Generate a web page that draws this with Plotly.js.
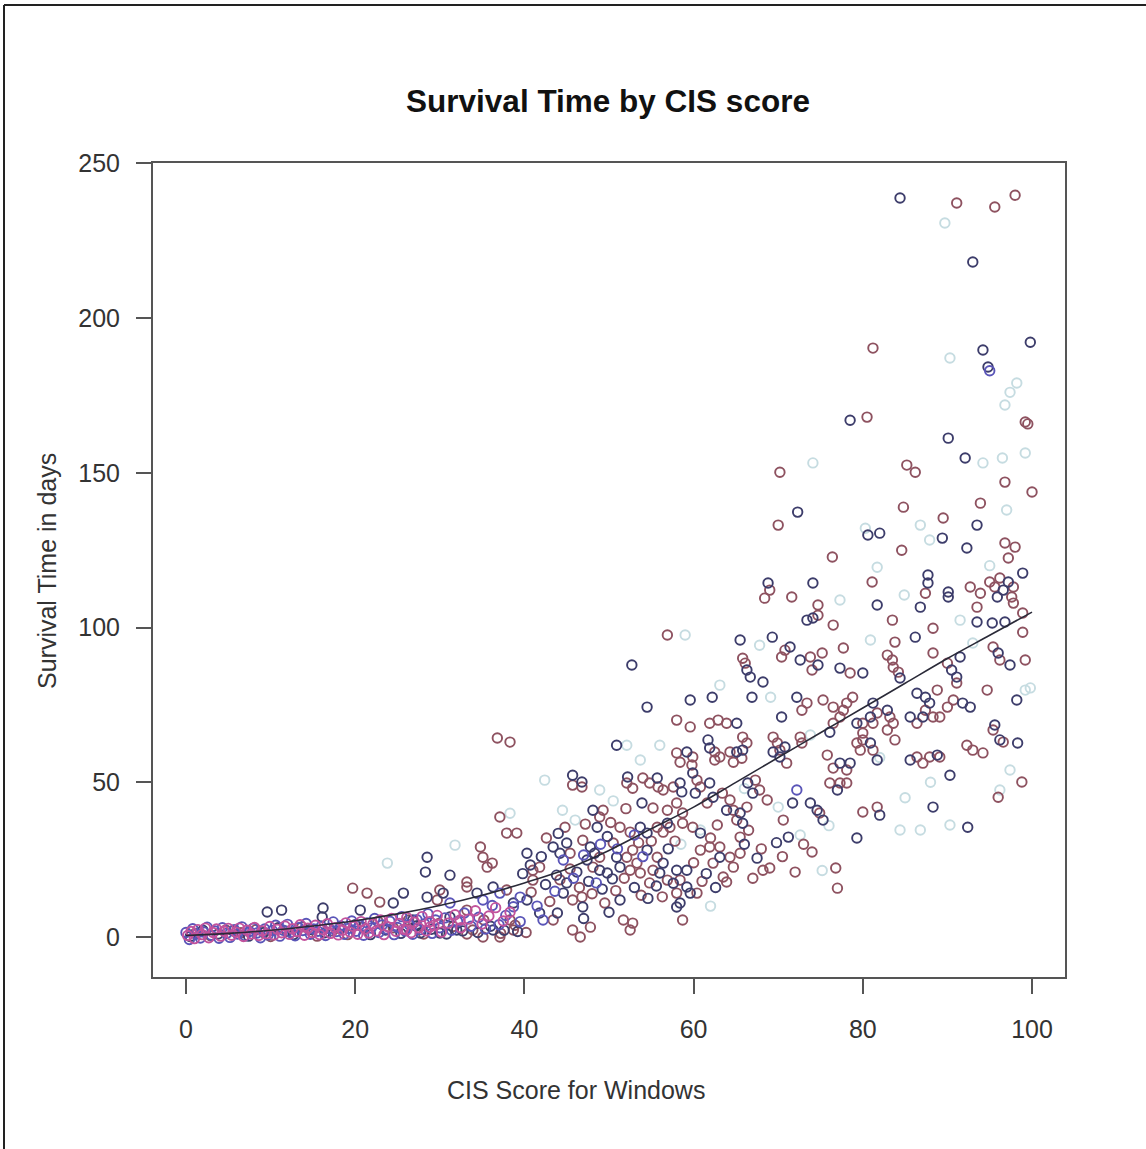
<!DOCTYPE html>
<html>
<head>
<meta charset="utf-8">
<script src="https://cdn.plot.ly/plotly-3.0.1.min.js"></script>
<style>
html,body{margin:0;padding:0;background:#fff;}
#chart{width:1146px;height:1149px;}
</style>
</head>
<body>
<div id="chart"></div>
<script>
// ---- data: [CIS score, survival days] ----
const navyPts = [
[84.4,238.8],[93.0,218.1],[94.2,189.7],[94.8,184.2],[99.8,192.2],[78.5,167.0],[90.1,161.2],[92.1,154.8],
[72.3,137.3],[93.5,133.1],[80.6,129.9],[82.0,130.5],[89.4,128.9],[92.3,125.7],[98.9,117.6],[87.7,117.0],
[87.7,114.4],[90.1,111.5],[90.1,109.9],[97.2,114.7],[96.6,112.1],[95.9,109.9],[68.8,114.4],[74.1,114.4],
[81.7,107.3],[73.4,102.4],[74.1,103.1],[86.8,106.6],[93.5,101.8],[95.3,101.5],[96.8,101.8],[65.5,96.0],
[69.3,96.9],[71.4,93.7],[72.6,89.5],[74.7,87.9],[77.3,86.9],[80.0,85.3],[86.2,96.9],[84.4,83.7],
[90.5,86.3],[91.1,84.0],[91.5,90.5],[97.4,87.9],[96.0,91.8],[52.7,87.9],[66.3,86.3],[66.7,84.0],
[68.2,82.4],[54.5,74.3],[59.6,76.6],[62.2,77.5],[66.9,77.5],[72.2,77.5],[81.2,75.6],[82.9,73.3],
[86.4,78.8],[87.4,77.5],[87.9,75.6],[91.8,75.6],[92.7,74.3],[98.2,76.6],[65.1,69.1],[70.4,71.1],
[76.1,66.2],[80.9,71.1],[79.3,69.1],[85.6,71.1],[87.1,71.1],[95.6,68.5],[98.3,62.7],[50.9,62.0],
[59.2,59.8],[61.7,63.7],[61.9,61.1],[65.1,59.8],[65.8,60.4],[69.4,59.8],[70.8,61.4],[70.2,58.2],
[77.3,56.2],[78.5,56.2],[80.9,62.7],[81.7,57.2],[85.6,57.2],[88.8,58.8],[90.3,52.3],[96.2,63.7],
[52.2,51.7],[55.7,51.4],[58.4,49.8],[58.6,46.9],[53.9,43.3],[59.9,53.0],[60.2,46.5],[61.9,49.8],
[62.3,45.2],[63.9,41.0],[66.4,49.8],[67.0,46.5],[71.7,43.3],[73.8,43.3],[74.6,41.0],[75.3,37.8],
[77.0,47.5],[79.3,32.0],[88.3,42.0],[92.4,35.5],[71.2,32.3],[82.0,39.4],[45.7,52.3],[46.8,50.1],
[48.1,41.0],[48.6,35.5],[28.5,25.8],[28.3,21.0],[31.2,20.0],[40.3,27.1],[40.7,23.3],[43.4,29.1],
[44.2,27.1],[45.0,30.4],[47.8,29.1],[48.3,27.1],[47.4,24.9],[43.9,7.8],[44.6,14.2],[46.9,9.7],
[41.8,7.8],[25.7,14.2],[28.5,12.9],[30.4,14.2],[34.4,14.2],[36.3,16.2],[38.7,11.0],[40.3,12.0],
[36.3,2.3],[26.8,5.5],[27.7,1.3],[30.0,1.3],[31.2,6.5],[32.0,2.3],[48.9,21.6],[49.8,20.7],
[50.9,25.8],[51.3,22.6],[54.5,28.1],[56.4,23.9],[56.0,20.7],[58.0,21.6],[59.2,21.6],[57.6,17.4],
[59.2,16.2],[59.6,14.2],[58.4,11.0],[58.0,9.7],[63.1,25.8],[51.3,12.0],[53.7,35.5],[54.5,33.6],
[56.9,36.8],[60.8,33.6],[65.5,40.1],[65.8,36.8],[9.6,8.1],[11.3,8.7],[16.1,6.5],[16.2,9.4],
[20.6,8.7],[24.5,11.0],
[39.8,20.5],[42.5,17.0],[43.8,20.0],[45.0,17.5],[46.2,21.0],[47.6,18.0],[49.2,15.5],[50.4,18.8],
[44.0,33.5],[42.0,26.0],[49.8,32.5],[53.0,16.0],[54.6,12.5],[55.6,16.5],[57.0,28.5],[61.5,20.5],
[62.6,16.0],[66.0,30.0],[67.5,25.5],[69.8,30.5],[50.0,8.0],[47.0,6.0],
[0.5,0.2],[2.0,2.2],[3.8,1.0],[5.6,2.0],[7.4,0.3],[9.2,1.5],[10.9,3.0],[12.7,0.8],[14.6,2.4],
[16.4,1.4],[18.2,2.8],[20.0,4.0],[21.8,0.8],[23.6,2.3],[25.4,1.2],[27.2,3.6],[29.0,2.5],[30.8,1.0],
[32.7,2.0],[34.5,1.5],[36.0,3.5],[37.6,2.2],[39.2,1.8]
];
const maroonPts = [
[91.1,237.2],[95.6,235.9],[98.0,239.7],[81.2,190.3],[99.2,166.4],[99.5,165.8],[80.5,168.0],[85.2,152.5],
[86.2,150.2],[70.2,150.2],[96.8,147.0],[100.0,143.8],[84.8,138.9],[93.9,140.2],[70.0,133.1],[89.5,135.4],
[96.8,127.3],[98.0,126.0],[97.2,122.5],[84.6,125.0],[76.4,122.8],[87.4,111.1],[92.7,113.1],[93.9,111.1],
[95.0,114.7],[96.2,116.0],[95.6,113.1],[97.8,113.1],[97.6,109.9],[69.0,112.1],[68.4,109.5],[71.6,109.9],
[81.1,114.7],[74.7,107.3],[74.7,104.0],[76.5,100.8],[93.5,106.6],[97.8,107.9],[98.9,104.7],[83.5,102.4],
[88.3,99.8],[98.9,98.5],[56.9,97.6],[70.8,92.7],[70.4,90.5],[73.8,90.5],[75.2,91.8],[74.0,86.3],
[77.7,93.4],[78.5,85.3],[83.8,95.3],[82.9,91.1],[83.5,89.5],[83.6,87.2],[84.2,85.6],[88.3,91.8],
[90.0,88.5],[91.1,82.1],[95.4,93.7],[96.2,89.5],[99.2,89.5],[65.8,90.1],[66.1,88.5],[73.4,75.6],
[72.8,73.3],[75.3,76.6],[76.5,74.3],[78.1,75.6],[77.7,73.3],[78.8,77.5],[81.7,72.4],[87.4,73.3],
[88.8,79.8],[90.0,74.3],[90.7,76.6],[94.7,79.8],[58.0,70.1],[59.6,67.9],[61.9,69.1],[62.9,70.1],
[63.9,69.1],[65.8,64.6],[66.3,62.7],[77.3,71.1],[76.5,69.1],[81.2,69.1],[80.0,69.1],[80.0,65.9],
[83.2,71.1],[83.6,69.1],[82.9,66.9],[86.4,69.1],[88.3,71.1],[89.1,71.1],[96.6,63.0],[92.3,62.0],
[93.0,60.4],[94.2,59.5],[95.4,66.9],[58.0,59.5],[58.4,56.5],[59.9,58.2],[59.8,55.6],[62.5,59.8],
[63.1,58.2],[62.5,57.2],[64.3,59.8],[65.7,57.8],[64.7,56.5],[69.4,64.6],[69.9,62.7],[70.2,60.4],
[71.0,56.2],[72.8,62.7],[72.6,64.6],[75.8,58.8],[76.5,54.6],[78.1,54.0],[79.3,62.7],[80.0,63.7],
[79.7,60.4],[81.2,60.4],[83.8,63.7],[86.4,58.2],[87.1,56.2],[87.9,58.2],[89.1,58.2],[96.0,45.2],
[98.8,50.1],[52.1,49.8],[52.8,48.1],[54.0,51.4],[54.8,49.8],[55.8,48.5],[56.4,47.5],[57.6,48.5],
[55.2,41.7],[56.9,41.0],[58.0,43.3],[60.4,50.7],[60.8,48.5],[61.6,43.3],[63.4,46.5],[64.3,44.3],
[64.7,41.0],[67.3,50.7],[67.8,47.5],[68.7,44.3],[74.9,40.1],[76.1,49.8],[77.3,49.8],[78.1,49.8],
[80.0,40.4],[81.7,42.0],[65.5,32.3],[70.6,37.8],[68.2,21.6],[69.0,22.3],[76.8,22.3],[77.0,15.8],
[74.0,27.5],[36.8,64.3],[38.3,63.0],[45.7,49.1],[46.8,48.5],[48.9,38.8],[49.3,41.0],[37.1,38.8],
[37.9,33.6],[39.1,33.6],[34.8,29.1],[35.1,25.8],[36.2,23.9],[35.6,22.6],[41.0,21.6],[41.8,22.6],
[45.4,27.1],[46.9,31.3],[48.9,25.8],[48.1,22.6],[43.4,5.5],[45.7,12.0],[46.8,12.9],[45.7,2.3],
[46.6,0.0],[47.8,3.2],[38.3,5.5],[38.7,2.3],[41.0,18.4],[29.7,12.0],[33.2,16.2],[33.2,8.7],
[37.9,15.2],[33.9,2.3],[35.1,0.0],[37.1,0.0],[50.5,30.4],[52.1,25.8],[52.8,28.1],[53.3,23.9],
[52.5,21.6],[53.7,20.7],[55.7,25.8],[55.2,21.6],[56.9,18.4],[58.4,18.4],[58.0,14.2],[60.4,14.2],
[60.8,28.1],[61.9,29.1],[62.3,23.9],[63.1,29.1],[64.3,25.8],[65.5,27.1],[64.7,22.6],[63.5,19.4],
[63.9,17.8],[51.7,5.5],[52.8,4.5],[52.5,2.3],[58.7,5.5],[51.3,35.5],[52.5,33.9],[55.7,35.5],
[56.4,33.9],[57.2,35.5],[58.7,36.8],[59.9,35.5],[62.8,36.2],[66.3,42.0],[65.1,37.8],[58.7,40.1],
[19.7,15.8],[21.4,14.2],[22.9,11.3],[30.0,15.2],[33.2,17.8],
[40.8,14.5],[43.0,11.5],[44.2,18.5],[45.4,22.0],[46.5,16.0],[48.0,14.0],[49.5,11.0],[50.8,15.0],
[51.8,19.0],[53.8,13.5],[54.8,17.5],[56.3,13.0],[42.6,32.0],[44.8,35.5],[47.2,36.5],[50.2,37.0],
[52.0,41.5],[53.5,30.5],[55.0,31.0],[57.8,31.0],[60.0,24.0],[61.0,18.0],[62.0,32.0],[66.5,34.5],
[68.0,28.5],[70.5,26.0],[72.0,21.0],[73.0,30.0],[67.0,19.0],
[1.1,1.2],[2.9,0.4],[4.7,2.3],[6.5,1.4],[8.3,2.4],[10.0,0.2],[11.9,1.9],[13.7,3.3],[15.5,0.3],
[17.3,2.0],[19.1,0.8],[20.9,3.2],[22.7,5.0],[24.5,3.0],[26.3,5.5],[28.1,1.0],[29.9,4.4],[31.6,3.4],
[33.2,1.0],[35.2,5.5],[37.2,1.2],[38.9,3.8],[40.2,1.5]
];
const palePts = [
[89.7,230.7],[90.3,187.1],[98.2,179.0],[97.4,176.0],[96.8,171.9],[94.2,153.2],[96.5,154.8],[99.2,156.4],
[74.1,153.2],[97.0,138.0],[86.8,133.1],[80.3,132.1],[81.7,119.5],[99.2,79.8],[99.8,80.5],[59.0,97.6],
[69.1,77.5],[52.1,62.0],[60.8,34.6],[84.4,34.6],[86.8,34.6],[90.3,36.2],[96.2,47.5],[97.4,54.0],
[91.5,102.4],[80.9,96.0],[73.8,65.3],[63.1,81.4],[67.8,94.3],[87.9,128.3],[84.9,110.5],[77.3,108.9],
[53.7,57.2],[48.9,47.5],[46.0,37.8],[42.4,50.7],[38.3,40.0],[31.8,29.7],[23.8,23.9],[72.6,33.0],
[95.0,120.0],[93.0,95.0],[85.0,45.0],[75.2,21.5],
[44.5,41.0],[50.5,44.0],[56.0,62.0],[58.5,30.0],[62.0,10.0],[66.0,48.0],[70.0,42.0],[76.0,36.0],
[82.0,58.0],[88.0,50.0]
];
const bluePts = [
[95.0,183.0],[72.2,47.5],[44.6,24.9],[42.2,5.5],[31.2,11.0],[35.1,12.0],[37.1,14.2],[39.5,12.9],
[41.5,10.0],[43.6,14.8],[45.8,19.0],[47.0,26.5],[49.0,30.0],[51.0,28.5],[53.0,33.0],[54.0,26.0],[48.5,17.5],
[0.0,1.5],[0.4,-0.8],[0.8,2.7],[1.2,0.9],[1.7,-0.3],[2.1,1.6],[2.5,3.2],[3.0,0.6],[3.4,2.0],[3.9,-0.4],
[4.3,3.0],[4.8,1.2],[5.2,-0.1],[5.7,2.4],[6.1,1.0],[6.6,3.3],[7.0,0.4],[7.5,1.8],[7.9,2.8],[8.4,1.3],
[8.8,-0.2],[9.3,2.6],[9.7,0.7],[10.2,2.1],[10.6,3.8],[11.1,0.3],[11.5,2.2],[12.0,4.1],[12.4,1.5],
[12.9,0.4],[13.3,3.0],[13.8,2.1],[14.2,4.4],[14.7,0.9],[15.1,2.6],[15.6,1.9],[16.0,3.5],[16.5,0.5],
[16.9,2.8],[17.4,4.9],[17.8,1.8],[18.3,3.6],[18.7,0.9],[19.2,2.8],[19.6,5.2],[20.1,1.9],[20.5,3.8],
[21.0,0.6],[21.4,4.6],[21.9,2.9],[22.3,6.0],[22.8,1.5],[23.2,3.9],[23.7,2.6],[24.1,5.1],[24.6,0.8],
[25.0,3.1],[25.5,6.6],[25.9,2.0],[26.4,4.0],[26.8,0.9],[27.3,5.6],[27.7,2.4],[28.2,4.3],[28.6,7.5],
[29.1,1.2],[29.5,5.5],[30.0,3.0],[30.6,6.2],[31.4,2.2],[32.1,5.0],[32.9,7.8],[33.7,3.5],[34.6,6.4],
[35.4,2.6],[36.2,10.2],[37.0,4.0],[37.8,7.0],[38.7,9.8],[39.5,5.0]
];
const magentaPts = [
[26.1,2.3],[28.8,3.2],[32.4,5.5],
[0.2,0.5],[0.6,1.8],[1.0,-0.5],[1.4,2.4],[1.9,0.8],[2.3,2.9],[2.7,-0.2],[3.2,1.5],[3.6,2.6],[4.1,0.3],
[4.5,1.9],[5.0,2.8],[5.4,0.6],[5.9,1.6],[6.3,2.9],[6.8,0.2],[7.2,2.2],[7.7,1.0],[8.1,3.1],[8.6,0.5],
[9.0,2.0],[9.5,1.1],[9.9,3.4],[10.4,0.7],[10.8,2.5],[11.3,1.4],[11.7,3.6],[12.2,0.9],[12.6,2.7],
[13.1,1.8],[13.5,4.0],[14.0,0.6],[14.4,2.9],[14.9,1.5],[15.3,3.8],[15.8,0.8],[16.2,2.4],[16.7,4.3],
[17.1,1.2],[17.6,3.0],[18.0,0.7],[18.5,2.2],[18.9,4.6],[19.4,1.6],[19.8,3.4],[20.3,0.9],[20.7,5.0],
[21.2,2.6],[21.6,1.3],[22.1,4.2],[22.5,2.0],[23.0,5.5],[23.4,0.8],[23.9,3.3],[24.3,6.0],[24.8,1.9],
[25.2,4.4],[25.7,2.5],[26.1,6.3],[26.6,1.4],[27.0,4.8],[27.5,3.0],[27.9,6.6],[28.4,2.0],[28.8,5.0],
[29.3,3.8],[29.7,7.0],[30.2,1.6],[31.0,4.5],[31.8,7.2],[32.5,3.0],[33.4,5.8],[34.2,8.5],[35.0,4.2],
[35.8,6.8],[36.6,9.5],[37.5,5.2],[38.3,8.0]
];
// fitted trend line
const fitX = [0,5,10,15,20,25,30,35,40,45,50,55,60,65,70,75,80,85,90,95,100];
const fitY = [0.5,1.2,2.2,3.6,5.3,7.5,10.2,13.5,17.5,22,28,35,42,50,58,66,74,82,90,97.5,105];
const xTicks = [0,20,40,60,80,100];
const yTicks = [0,50,100,150,200,250];

const FONT = "Liberation Sans, Arial, sans-serif";
function pts(arr, color, name){
  return {type:'scatter', mode:'markers', name:name,
    x: arr.map(p=>p[0]), y: arr.map(p=>p[1]),
    marker:{symbol:'circle-open', size:9.5, color:color, line:{width:1.9, color:color}},
    hoverinfo:'x+y'};
}
const traces = [
  pts(palePts, '#c6dce1', 'pale'),
  pts(maroonPts, '#8e5260', 'maroon'),
  pts(navyPts, '#3d3d6b', 'navy'),
  pts(bluePts, '#5a55b8', 'blue'),
  pts(magentaPts, '#c2529c', 'magenta'),
  {type:'scatter', mode:'lines', x: fitX, y: fitY, line:{color:'#2a2a38', width:1.6, shape:'spline'}, hoverinfo:'skip'}
];

const axisCommon = {
  showgrid:false, zeroline:false, showline:true, linecolor:'#555', linewidth:2, mirror:true,
  ticks:'outside', ticklen:15, tickwidth:2, tickcolor:'#555',
  tickfont:{family:FONT, size:25, color:'#333'}
};
const layout = {
  width:1146, height:1149,
  margin:{l:153, r:81, t:163, b:172, pad:0},
  paper_bgcolor:'#fff', plot_bgcolor:'#fff',
  showlegend:false,
  title:{text:'<b>Survival Time by CIS score</b>', font:{family:FONT, size:31.5, color:'#111'},
    xref:'container', yref:'container', x:608/1146, xanchor:'center', y:1-101/1149, yanchor:'middle'},
  xaxis: Object.assign({}, axisCommon, {range:[-3.9,103.9], tickvals:xTicks, ticktext:xTicks.map(String), ticklabelstandoff:14}),
  yaxis: Object.assign({}, axisCommon, {range:[-12.9,250.1], tickvals:yTicks, ticktext:yTicks.map(String), ticklabelstandoff:11}),
  annotations:[
    {text:'CIS Score for Windows', xref:'paper', yref:'paper', x:(576-153)/912, y:(977-1090)/814,
     xanchor:'center', yanchor:'middle', showarrow:false, font:{family:FONT, size:25, color:'#333'}},
    {text:'Survival Time in days', xref:'paper', yref:'paper', x:(47-153)/912, y:(977-571)/814,
     xanchor:'center', yanchor:'middle', textangle:-90, showarrow:false, font:{family:FONT, size:25, color:'#333'}}
  ],
  shapes:[
    {type:'line', xref:'paper', yref:'paper', x0:(4-153)/912, x1:(4-153)/912, y0:(977-1152)/814, y1:(977-5)/814, line:{color:'#222', width:2}},
    {type:'line', xref:'paper', yref:'paper', x0:(4-153)/912, x1:(1148-153)/912, y0:(977-5)/814, y1:(977-5)/814, line:{color:'#222', width:2}}
  ]
};
Plotly.newPlot('chart', traces, layout, {displayModeBar:false, staticPlot:true});
</script>
</body>
</html>
